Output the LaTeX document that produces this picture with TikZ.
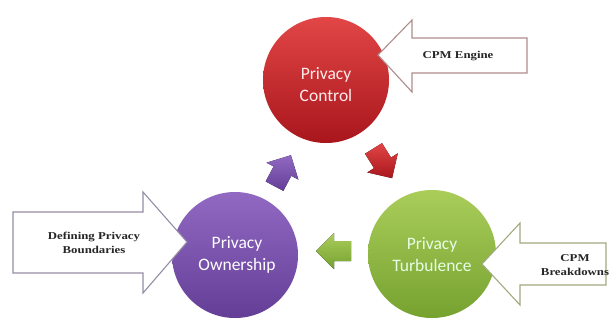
\documentclass[tikz,border=0pt]{standalone}
\usepackage{fontspec}
\setmainfont{Carlito}
\newfontfamily\boxfont[FakeStretch=1.22]{Liberation Serif}
\definecolor{redA}{RGB}{226,70,70}
\definecolor{redB}{RGB}{168,22,28}
\definecolor{purA}{RGB}{145,105,195}
\definecolor{purB}{RGB}{100,62,150}
\definecolor{grnA}{RGB}{170,205,90}
\definecolor{grnB}{RGB}{118,162,48}
\definecolor{redEdge}{RGB}{175,140,140}
\definecolor{purEdge}{RGB}{150,140,165}
\definecolor{grnEdge}{RGB}{160,170,130}
\tikzset{
  bubble/.style={circle, minimum size=#1, inner sep=0pt, align=center,
    font=\fontsize{17.5}{22}\selectfont, text=white},
  callout/.style={fill=white, draw=#1, line width=1.1pt, line join=miter},
  calltext/.style={align=center, font=\boxfont\bfseries\fontsize{10.5}{14}\selectfont, text=black!85},
  blockarrow/.style={line join=round}
}
\newcommand{\blockarr}[4]{% center, angle, top color, bottom color
  \begin{scope}[shift={#1}, rotate=#2]
    \fill[top color=#3, bottom color=#4, blockarrow]
      (19,0) -- (1,-18) -- (1,-10) -- (-16,-10) -- (-16,10) -- (1,10) -- (1,18) -- cycle;
  \end{scope}}
\begin{document}
\begin{tikzpicture}[x=1pt,y=-1pt]
\useasboundingbox (0,0) rectangle (609,322);
\fill[white] (0,0) rectangle (609,322);

% circles
\node[bubble=126, top color=redA, bottom color=redB] (ctrl) at (326,80) {};
\node[bubble=126, top color=purA, bottom color=purB] (own) at (235,255) {};
\node[bubble=128, top color=grnA, bottom color=grnB] (turb) at (432,254) {};

% callouts
\draw[callout=redEdge] (378,55) -- (412,20) -- (412,38) -- (527,38) -- (527,73) -- (412,73) -- (412,92) -- cycle;
\draw[callout=purEdge] (187,242) -- (143,192) -- (143,212) -- (13,212) -- (13,273) -- (143,273) -- (143,293) -- cycle;
\draw[callout=grnEdge] (482,264) -- (520,223) -- (520,243) -- (606,243) -- (606,285) -- (520,285) -- (520,305) -- cycle;

% circle labels
\node[bubble=1, text=white!92!red] (ctrlT) at (326,85) {Privacy\\Control};
\node[bubble=1] (ownT) at (237,255) {Privacy\\Ownership};
\node[bubble=1, text=white!90!green] (turbT) at (432,255) {Privacy\\Turbulence};

% callout labels
\node[calltext] (eng) at (458,56) {CPM Engine};
\node[calltext] (def) at (94,243) {Defining Privacy\\Boundaries};
\node[calltext] (brk) at (575,265) {CPM\\Breakdowns};

% small cycle arrows
\blockarr{(382,162)}{-58}{redA}{redB}
\blockarr{(335,251)}{180}{grnA}{grnB}
\blockarr{(282,172)}{62}{purA}{purB}
\end{tikzpicture}
\end{document}
